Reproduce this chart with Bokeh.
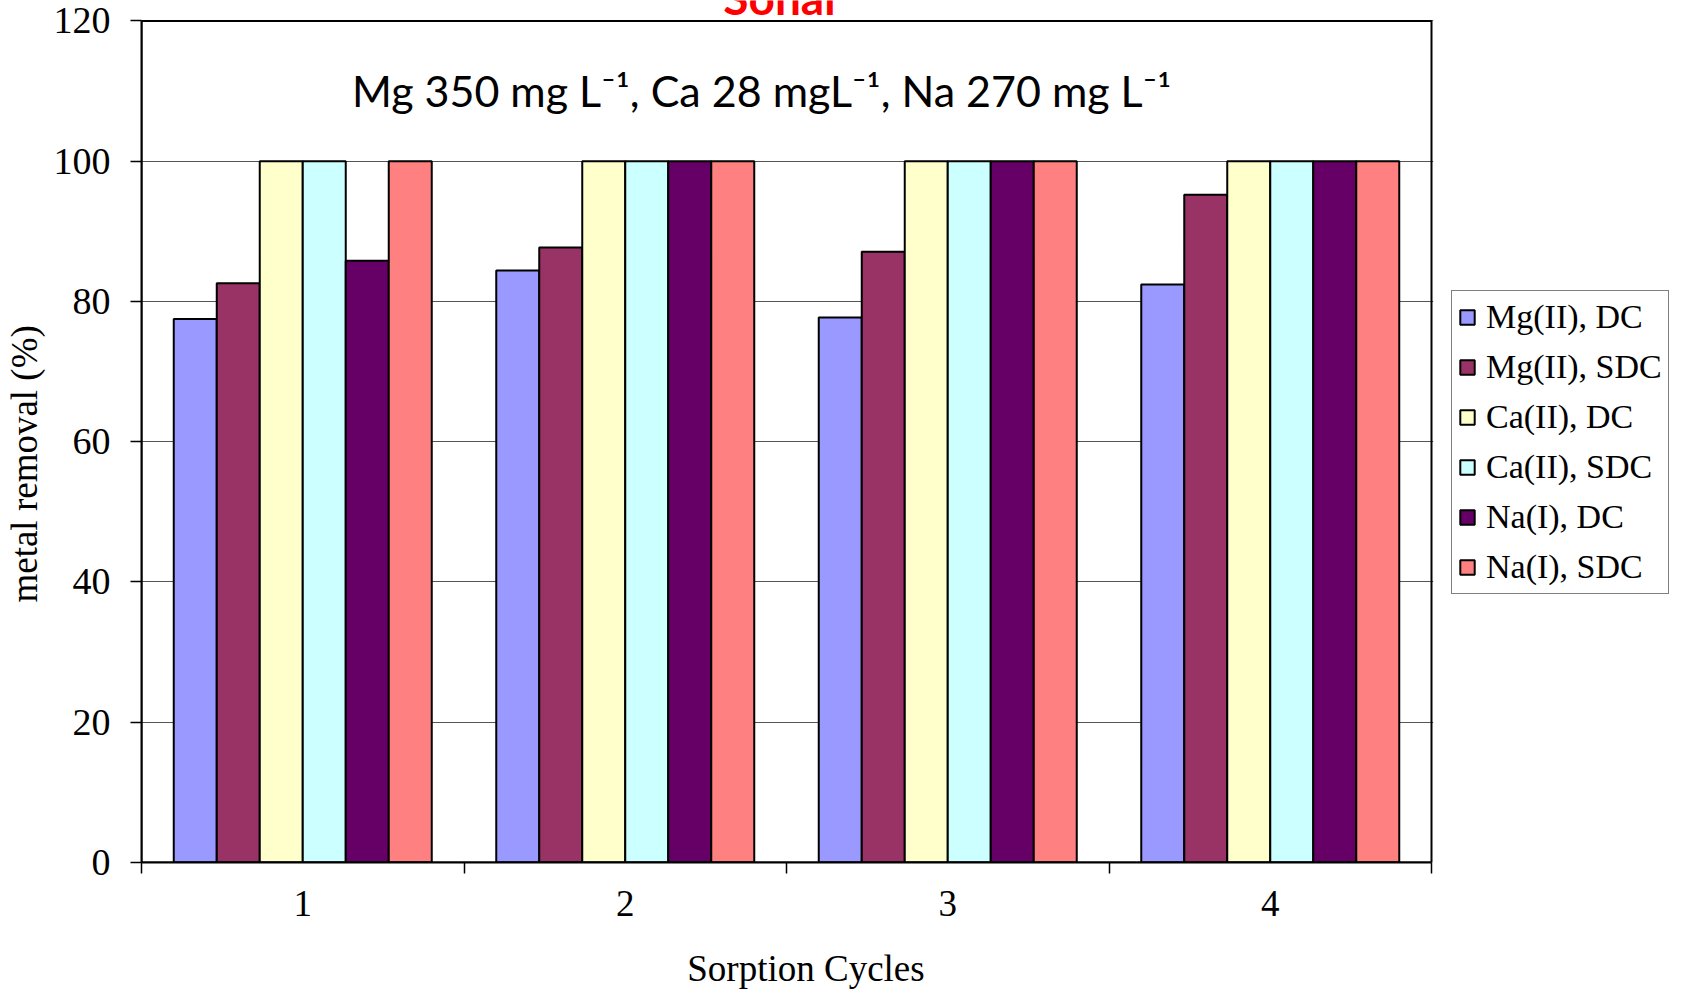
import numpy as np
from bokeh.plotting import figure
from bokeh.models import (ColumnDataSource, Range1d, FixedTicker, Legend, LegendItem, Label,
                          LinearAxis)
from bokeh.embed import file_html
from bokeh.resources import INLINE

# Sorption cycles and removal (%) per metal / column type
cycles = [1, 2, 3, 4]
series_names = ["Mg(II), DC", "Mg(II), SDC", "Ca(II), DC", "Ca(II), SDC", "Na(I), DC", "Na(I), SDC"]
mg_dc = [77.5, 84.4, 77.7, 82.4]
mg_sdc = [82.6, 87.7, 87.1, 95.2]
ca_dc = [100, 100, 100, 100]
ca_sdc = [100, 100, 100, 100]
na_dc = [85.8, 100, 100, 100]
na_sdc = [100, 100, 100, 100]
series_values = [mg_dc, mg_sdc, ca_dc, ca_sdc, na_dc, na_sdc]
colors = ["#9999FF", "#993366", "#FFFFCC", "#CCFFFF", "#660066", "#FF8080"]
y_ticks = [0, 20, 40, 60, 80, 100, 120]
y_max = 120

SERIF = "Liberation Serif"
NBSP = "\u00a0"

# the frame reaches the top of the canvas so the heading above the plot box can be drawn
PX_PER_UNIT = 7.0133
FRAME_H = 862
FRAME_W = 1292
x_lo, x_hi = cycles[0] - 0.5, cycles[-1] + 0.5

p = figure(
    frame_width=FRAME_W, frame_height=FRAME_H,
    min_border_left=140, min_border_right=1683 - 140 - FRAME_W, min_border_top=0,
    min_border_bottom=993 - FRAME_H,
    x_range=Range1d(x_lo, x_hi + 2 / 322.57), y_range=Range1d(0, FRAME_H / PX_PER_UNIT),
    output_backend="svg", toolbar_location=None,
)
p.background_fill_color = "white"
p.border_fill_color = "white"
p.outline_line_color = None

# bars: 6 per cycle, Excel-style gap of 1.5 bar widths between groups
n = len(series_names)
bar_w = 1.0 / (n + 1.5)
renderers = []
for j, (vals, col) in enumerate(zip(series_values, colors)):
    xs = np.array(cycles, dtype=float) + (j - (n - 1) / 2) * bar_w
    src = ColumnDataSource(dict(x=xs, top=vals))
    r = p.vbar(x="x", top="top", width=bar_w, bottom=0, source=src,
               fill_color=col, line_color="black", line_width=2)
    renderers.append(r)

# plot box
p.quad(left=x_lo, right=x_hi, bottom=0, top=y_max, fill_color=None,
       line_color="black", line_width=2)

# y axis
p.yaxis.ticker = FixedTicker(ticks=y_ticks)
p.yaxis.bounds = (0, y_max)
p.yaxis.major_label_text_font = SERIF
p.yaxis.major_label_text_font_size = "38px"
p.yaxis.major_label_text_color = "black"
p.yaxis.major_label_standoff = 20
p.yaxis.major_tick_out = 11
p.yaxis.major_tick_in = 0
p.yaxis.major_tick_line_width = 1.5
p.yaxis.minor_tick_line_color = None
p.yaxis.axis_line_width = 2

# x axis: labels at cycle centres, ticks at group boundaries
p.xaxis.ticker = FixedTicker(ticks=cycles, minor_ticks=[c - 0.5 for c in cycles] + [x_hi])
p.xaxis.bounds = (x_lo, x_hi)
p.xaxis.major_label_text_font = SERIF
p.xaxis.major_label_text_font_size = "37px"
p.xaxis.major_label_text_color = "black"
p.xaxis.major_label_standoff = 17
p.xaxis.major_tick_out = 0
p.xaxis.major_tick_in = 0
p.xaxis.major_tick_line_color = None
p.xaxis.minor_tick_out = 11
p.xaxis.minor_tick_in = 0
p.xaxis.minor_tick_line_color = "black"
p.xaxis.minor_tick_line_width = 1.5
p.xaxis.axis_line_width = 2


def title_axis(label, standoff):
    """An axis that only carries a title."""
    return LinearAxis(
        ticker=FixedTicker(ticks=[], minor_ticks=[]),
        axis_label=label, axis_label_text_font=SERIF, axis_label_text_font_size="37px",
        axis_label_text_font_style="normal", axis_label_text_color="black",
        axis_label_standoff=standoff, axis_line_color=None,
        major_tick_line_color=None, minor_tick_line_color=None,
        major_tick_out=0, minor_tick_out=0, major_label_standoff=0,
    )


# titles sit a little off-centre (towards the lower / right part of the plot box)
p.add_layout(title_axis("metal removal (%)" + NBSP * 7, 6), "left")
p.add_layout(title_axis(NBSP * 4 + "Sorption Cycles", 29), "below")

p.xgrid.grid_line_color = None
p.ygrid.grid_line_color = "#555555"
p.ygrid.grid_line_width = 1

# legend in the right-hand panel
legend = Legend(
    items=[LegendItem(label=name, renderers=[r]) for name, r in zip(series_names, renderers)],
    location=(18, 268),
    border_line_color="black", border_line_width=1,
    background_fill_color="white", background_fill_alpha=1,
    padding=6, spacing=10, margin=0,
    glyph_width=18, glyph_height=18, label_standoff=10,
    label_text_font=SERIF, label_text_font_size="34px", label_height=40,
    label_text_color="black",
)
p.add_layout(legend, "right")

subtitle = Label(
    x=2.423, y=110.1, text="Mg 350 mg L\u207b\u00b9, Ca 28 mgL\u207b\u00b9, Na 270 mg L\u207b\u00b9",
    text_font="Lato", text_font_size="43px", text_align="center", text_baseline="alphabetic",
    text_color="black",
)
p.add_layout(subtitle)

title = Label(
    x=2.487, y=123.34, text="Sonar",
    text_font="Lato", text_font_style="bold", text_font_size="46px",
    text_align="center", text_baseline="alphabetic", text_color="#FF0000",
)
p.add_layout(title)

open("out.html", "w").write(file_html(p, INLINE))
